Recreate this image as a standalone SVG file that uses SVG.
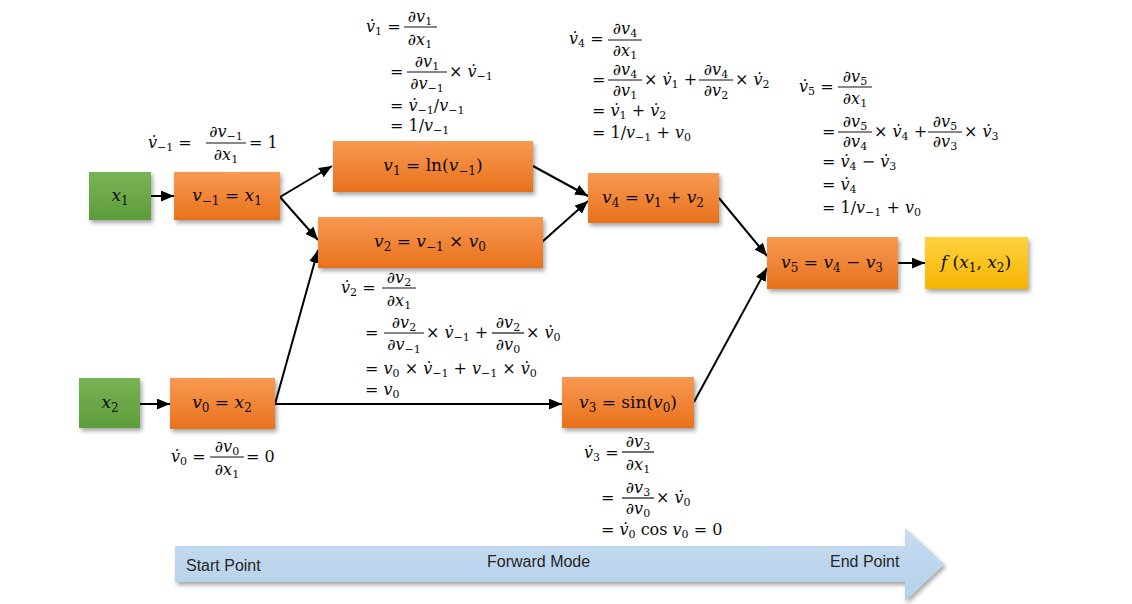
<svg xmlns="http://www.w3.org/2000/svg" width="1132" height="604" viewBox="0 0 1132 604">
<defs>
<style>
.m{font-family:"DejaVu Serif","Liberation Serif",serif;font-size:16px;fill:#0a0a0a}
.n{font-size:17px}
.i{font-style:italic}
.s{font-size:11px}
.n .s{font-size:12px}
.bar{stroke:#111;stroke-width:1.2}
.c{fill:none;stroke:#000;stroke-width:2;marker-end:url(#ah)}
.lab{font-family:"Liberation Sans",Arial,sans-serif;font-size:16px;fill:#262626}
.or{fill:url(#gO);filter:url(#sh)}
.gr{fill:url(#gG);filter:url(#sh)}
.ye{fill:url(#gY);filter:url(#sh)}
</style>
<linearGradient id="gO" x1="0" y1="0" x2="0" y2="1"><stop offset="0" stop-color="#F89A52"/><stop offset="1" stop-color="#E8711C"/></linearGradient>
<linearGradient id="gG" x1="0" y1="0" x2="0" y2="1"><stop offset="0" stop-color="#79B356"/><stop offset="1" stop-color="#5E9C3A"/></linearGradient>
<linearGradient id="gY" x1="0" y1="0" x2="0" y2="1"><stop offset="0" stop-color="#FFD23F"/><stop offset="1" stop-color="#F5B400"/></linearGradient>
<linearGradient id="gB" x1="0" y1="0" x2="0" y2="1"><stop offset="0" stop-color="#C6DCF0"/><stop offset="1" stop-color="#B4D0EA"/></linearGradient>
<filter id="sh" x="-10%" y="-20%" width="130%" height="150%"><feDropShadow dx="2" dy="3" stdDeviation="2" flood-color="#000" flood-opacity="0.35"/></filter>
<marker id="ah" viewBox="0 0 12 10" refX="12" refY="5" markerWidth="13" markerHeight="11" markerUnits="userSpaceOnUse" orient="auto"><path d="M0,0 L12,5 L0,10 z" fill="#000"/></marker>
</defs>
<rect width="1132" height="604" fill="#fff"/>

<g id="timeline">
<polygon points="175,546 905,546 905,528 944,564 905,601 905,582 175,582" fill="url(#gB)" filter="url(#sh)"/>
<text class="lab" x="186" y="571">Start Point</text>
<text class="lab" x="487" y="567">Forward Mode</text>
<text class="lab" x="830" y="567">End Point</text>
</g>

<g id="connectors">
<path class="c" d="M151,196 L174,196"/>
<path class="c" d="M140,404 L170,404"/>
<path class="c" d="M280,197 L332,166"/>
<path class="c" d="M280,197 L318,240"/>
<path class="c" d="M275,404 L318,250"/>
<path class="c" d="M275,404 L562,404"/>
<path class="c" d="M533,166 L588,196"/>
<path class="c" d="M542,242 L588,201"/>
<path class="c" d="M719,198 L767,256"/>
<path class="c" d="M694,402 L767,268"/>
<path class="c" d="M898,263 L925,263"/>
</g>

<g id="x1"><rect class="gr" x="89" y="172" width="62" height="48"/>
<text class="m n" x="120" y="201" text-anchor="middle"><tspan class="i">x</tspan><tspan class="s" dy="4">1</tspan></text></g>

<g id="vm1"><rect class="or" x="174" y="172" width="106" height="48"/>
<text class="m n" x="227" y="201" text-anchor="middle"><tspan class="i">v</tspan><tspan class="s" dy="4">−1</tspan><tspan dy="-4"> = </tspan><tspan class="i">x</tspan><tspan class="s" dy="4">1</tspan></text></g>

<g id="v1"><rect class="or" x="333" y="141" width="200" height="51"/>
<text class="m n" x="433" y="171" text-anchor="middle"><tspan class="i">v</tspan><tspan class="s" dy="4">1</tspan><tspan dy="-4"> = ln(</tspan><tspan class="i">v</tspan><tspan class="s" dy="4">−1</tspan><tspan dy="-4">)</tspan></text></g>

<g id="v2"><rect class="or" x="318" y="217" width="225" height="51"/>
<text class="m n" x="430" y="247" text-anchor="middle"><tspan class="i">v</tspan><tspan class="s" dy="4">2</tspan><tspan dy="-4"> = </tspan><tspan class="i">v</tspan><tspan class="s" dy="4">−1</tspan><tspan dy="-4"> × </tspan><tspan class="i">v</tspan><tspan class="s" dy="4">0</tspan></text></g>

<g id="v4"><rect class="or" x="588" y="173" width="131" height="50"/>
<text class="m n" x="653" y="203" text-anchor="middle"><tspan class="i">v</tspan><tspan class="s" dy="4">4</tspan><tspan dy="-4"> = </tspan><tspan class="i">v</tspan><tspan class="s" dy="4">1</tspan><tspan dy="-4"> + </tspan><tspan class="i">v</tspan><tspan class="s" dy="4">2</tspan></text></g>

<g id="v5"><rect class="or" x="767" y="237" width="131" height="52"/>
<text class="m n" x="832" y="268" text-anchor="middle"><tspan class="i">v</tspan><tspan class="s" dy="4">5</tspan><tspan dy="-4"> = </tspan><tspan class="i">v</tspan><tspan class="s" dy="4">4</tspan><tspan dy="-4"> − </tspan><tspan class="i">v</tspan><tspan class="s" dy="4">3</tspan></text></g>

<g id="f"><rect class="ye" x="925" y="237" width="103" height="52"/>
<text class="m n" x="976" y="268" text-anchor="middle"><tspan class="i">f</tspan><tspan> (</tspan><tspan class="i">x</tspan><tspan class="s" dy="4">1</tspan><tspan dy="-4">, </tspan><tspan class="i">x</tspan><tspan class="s" dy="4">2</tspan><tspan dy="-4">)</tspan></text></g>

<g id="x2"><rect class="gr" x="79" y="378" width="61" height="50"/>
<text class="m n" x="110" y="408" text-anchor="middle"><tspan class="i">x</tspan><tspan class="s" dy="4">2</tspan></text></g>

<g id="v0"><rect class="or" x="170" y="378" width="105" height="51"/>
<text class="m n" x="222" y="408" text-anchor="middle"><tspan class="i">v</tspan><tspan class="s" dy="4">0</tspan><tspan dy="-4"> = </tspan><tspan class="i">x</tspan><tspan class="s" dy="4">2</tspan></text></g>

<g id="v3"><rect class="or" x="562" y="377" width="132" height="51"/>
<text class="m n" x="628" y="408" text-anchor="middle"><tspan class="i">v</tspan><tspan class="s" dy="4">3</tspan><tspan dy="-4"> = sin(</tspan><tspan class="i">v</tspan><tspan class="s" dy="4">0</tspan><tspan dy="-4">)</tspan></text></g>

<g id="ann-vm1">
<text class="m" x="148" y="148"><tspan class="i">v&#x307;</tspan><tspan class="s" dy="3">−1</tspan><tspan dy="-3"> =</tspan></text>
<text class="m" x="226" y="137" text-anchor="middle"><tspan class="i">∂v</tspan><tspan class="s" dy="3">−1</tspan></text>
<line class="bar" x1="206" y1="143" x2="246" y2="143"/>
<text class="m" x="226" y="160" text-anchor="middle"><tspan class="i">∂x</tspan><tspan class="s" dy="3">1</tspan></text>
<text class="m" x="249" y="148">= 1</text>
</g>

<g id="ann-v1">
<text class="m" x="366" y="32"><tspan class="i">v&#x307;</tspan><tspan class="s" dy="3">1</tspan><tspan dy="-3"> =</tspan></text>
<text class="m" x="420" y="22" text-anchor="middle"><tspan class="i">∂v</tspan><tspan class="s" dy="3">1</tspan></text>
<line class="bar" x1="404" y1="27" x2="437" y2="27"/>
<text class="m" x="420" y="45" text-anchor="middle"><tspan class="i">∂x</tspan><tspan class="s" dy="3">1</tspan></text>
<text class="m" x="390" y="77">=</text>
<text class="m" x="427" y="67" text-anchor="middle"><tspan class="i">∂v</tspan><tspan class="s" dy="3">1</tspan></text>
<line class="bar" x1="407" y1="72" x2="447" y2="72"/>
<text class="m" x="427" y="89" text-anchor="middle"><tspan class="i">∂v</tspan><tspan class="s" dy="3">−1</tspan></text>
<text class="m" x="449" y="77">× <tspan class="i">v&#x307;</tspan><tspan class="s" dy="3">−1</tspan></text>
<text class="m" x="390" y="111">= <tspan class="i">v&#x307;</tspan><tspan class="s" dy="3">−1</tspan><tspan dy="-3">/</tspan><tspan class="i">v</tspan><tspan class="s" dy="3">−1</tspan></text>
<text class="m" x="390" y="131">= 1/<tspan class="i">v</tspan><tspan class="s" dy="3">−1</tspan></text>
</g>

<g id="ann-v4">
<text class="m" x="569" y="44"><tspan class="i">v&#x307;</tspan><tspan class="s" dy="3">4</tspan><tspan dy="-3"> =</tspan></text>
<text class="m" x="625" y="34" text-anchor="middle"><tspan class="i">∂v</tspan><tspan class="s" dy="3">4</tspan></text>
<line class="bar" x1="608" y1="40" x2="642" y2="40"/>
<text class="m" x="625" y="56" text-anchor="middle"><tspan class="i">∂x</tspan><tspan class="s" dy="3">1</tspan></text>
<text class="m" x="592" y="85">=</text>
<text class="m" x="625" y="75" text-anchor="middle"><tspan class="i">∂v</tspan><tspan class="s" dy="3">4</tspan></text>
<line class="bar" x1="608" y1="80" x2="642" y2="80"/>
<text class="m" x="625" y="96" text-anchor="middle"><tspan class="i">∂v</tspan><tspan class="s" dy="3">1</tspan></text>
<text class="m" x="644" y="85">× <tspan class="i">v&#x307;</tspan><tspan class="s" dy="3">1</tspan><tspan dy="-3"> +</tspan></text>
<text class="m" x="716" y="75" text-anchor="middle"><tspan class="i">∂v</tspan><tspan class="s" dy="3">4</tspan></text>
<line class="bar" x1="699" y1="80" x2="733" y2="80"/>
<text class="m" x="716" y="96" text-anchor="middle"><tspan class="i">∂v</tspan><tspan class="s" dy="3">2</tspan></text>
<text class="m" x="735" y="85">× <tspan class="i">v&#x307;</tspan><tspan class="s" dy="3">2</tspan></text>
<text class="m" x="592" y="116">= <tspan class="i">v&#x307;</tspan><tspan class="s" dy="3">1</tspan><tspan dy="-3"> + </tspan><tspan class="i">v&#x307;</tspan><tspan class="s" dy="3">2</tspan></text>
<text class="m" x="592" y="138">= 1/<tspan class="i">v</tspan><tspan class="s" dy="3">−1</tspan><tspan dy="-3"> + </tspan><tspan class="i">v</tspan><tspan class="s" dy="3">0</tspan></text>
</g>

<g id="ann-v5">
<text class="m" x="799" y="92"><tspan class="i">v&#x307;</tspan><tspan class="s" dy="3">5</tspan><tspan dy="-3"> =</tspan></text>
<text class="m" x="855" y="82" text-anchor="middle"><tspan class="i">∂v</tspan><tspan class="s" dy="3">5</tspan></text>
<line class="bar" x1="838" y1="87" x2="872" y2="87"/>
<text class="m" x="855" y="104" text-anchor="middle"><tspan class="i">∂x</tspan><tspan class="s" dy="3">1</tspan></text>
<text class="m" x="822" y="137">=</text>
<text class="m" x="855" y="127" text-anchor="middle"><tspan class="i">∂v</tspan><tspan class="s" dy="3">5</tspan></text>
<line class="bar" x1="838" y1="132" x2="872" y2="132"/>
<text class="m" x="855" y="147" text-anchor="middle"><tspan class="i">∂v</tspan><tspan class="s" dy="3">4</tspan></text>
<text class="m" x="874" y="137">× <tspan class="i">v&#x307;</tspan><tspan class="s" dy="3">4</tspan><tspan dy="-3"> +</tspan></text>
<text class="m" x="945" y="127" text-anchor="middle"><tspan class="i">∂v</tspan><tspan class="s" dy="3">5</tspan></text>
<line class="bar" x1="928" y1="132" x2="962" y2="132"/>
<text class="m" x="945" y="147" text-anchor="middle"><tspan class="i">∂v</tspan><tspan class="s" dy="3">3</tspan></text>
<text class="m" x="964" y="137">× <tspan class="i">v&#x307;</tspan><tspan class="s" dy="3">3</tspan></text>
<text class="m" x="822" y="167">= <tspan class="i">v&#x307;</tspan><tspan class="s" dy="3">4</tspan><tspan dy="-3"> − </tspan><tspan class="i">v&#x307;</tspan><tspan class="s" dy="3">3</tspan></text>
<text class="m" x="822" y="190">= <tspan class="i">v&#x307;</tspan><tspan class="s" dy="3">4</tspan></text>
<text class="m" x="822" y="213">= 1/<tspan class="i">v</tspan><tspan class="s" dy="3">−1</tspan><tspan dy="-3"> + </tspan><tspan class="i">v</tspan><tspan class="s" dy="3">0</tspan></text>
</g>

<g id="ann-v2">
<text class="m" x="341" y="293"><tspan class="i">v&#x307;</tspan><tspan class="s" dy="3">2</tspan><tspan dy="-3"> =</tspan></text>
<text class="m" x="399" y="283" text-anchor="middle"><tspan class="i">∂v</tspan><tspan class="s" dy="3">2</tspan></text>
<line class="bar" x1="382" y1="288" x2="416" y2="288"/>
<text class="m" x="399" y="306" text-anchor="middle"><tspan class="i">∂x</tspan><tspan class="s" dy="3">1</tspan></text>
<text class="m" x="365" y="338">=</text>
<text class="m" x="404" y="328" text-anchor="middle"><tspan class="i">∂v</tspan><tspan class="s" dy="3">2</tspan></text>
<line class="bar" x1="384" y1="333" x2="424" y2="333"/>
<text class="m" x="404" y="350" text-anchor="middle"><tspan class="i">∂v</tspan><tspan class="s" dy="3">−1</tspan></text>
<text class="m" x="426" y="338">× <tspan class="i">v&#x307;</tspan><tspan class="s" dy="3">−1</tspan><tspan dy="-3"> +</tspan></text>
<text class="m" x="508" y="328" text-anchor="middle"><tspan class="i">∂v</tspan><tspan class="s" dy="3">2</tspan></text>
<line class="bar" x1="492" y1="333" x2="524" y2="333"/>
<text class="m" x="508" y="350" text-anchor="middle"><tspan class="i">∂v</tspan><tspan class="s" dy="3">0</tspan></text>
<text class="m" x="526" y="338">× <tspan class="i">v&#x307;</tspan><tspan class="s" dy="3">0</tspan></text>
<text class="m" x="365" y="374">= <tspan class="i">v</tspan><tspan class="s" dy="3">0</tspan><tspan dy="-3"> × </tspan><tspan class="i">v&#x307;</tspan><tspan class="s" dy="3">−1</tspan><tspan dy="-3"> + </tspan><tspan class="i">v</tspan><tspan class="s" dy="3">−1</tspan><tspan dy="-3"> × </tspan><tspan class="i">v&#x307;</tspan><tspan class="s" dy="3">0</tspan></text>
<text class="m" x="365" y="395">= <tspan class="i">v</tspan><tspan class="s" dy="3">0</tspan></text>
</g>

<g id="ann-v3">
<text class="m" x="584" y="458"><tspan class="i">v&#x307;</tspan><tspan class="s" dy="3">3</tspan><tspan dy="-3"> =</tspan></text>
<text class="m" x="638" y="447" text-anchor="middle"><tspan class="i">∂v</tspan><tspan class="s" dy="3">3</tspan></text>
<line class="bar" x1="622" y1="452" x2="654" y2="452"/>
<text class="m" x="638" y="470" text-anchor="middle"><tspan class="i">∂x</tspan><tspan class="s" dy="3">1</tspan></text>
<text class="m" x="601" y="503">=</text>
<text class="m" x="638" y="493" text-anchor="middle"><tspan class="i">∂v</tspan><tspan class="s" dy="3">3</tspan></text>
<line class="bar" x1="622" y1="498" x2="654" y2="498"/>
<text class="m" x="638" y="514" text-anchor="middle"><tspan class="i">∂v</tspan><tspan class="s" dy="3">0</tspan></text>
<text class="m" x="656" y="503">× <tspan class="i">v&#x307;</tspan><tspan class="s" dy="3">0</tspan></text>
<text class="m" x="601" y="535">= <tspan class="i">v&#x307;</tspan><tspan class="s" dy="3">0</tspan><tspan dy="-3"> cos </tspan><tspan class="i">v</tspan><tspan class="s" dy="3">0</tspan><tspan dy="-3"> = 0</tspan></text>
</g>

<g id="ann-v0">
<text class="m" x="171" y="462"><tspan class="i">v&#x307;</tspan><tspan class="s" dy="3">0</tspan><tspan dy="-3"> =</tspan></text>
<text class="m" x="227" y="452" text-anchor="middle"><tspan class="i">∂v</tspan><tspan class="s" dy="3">0</tspan></text>
<line class="bar" x1="210" y1="457" x2="244" y2="457"/>
<text class="m" x="227" y="475" text-anchor="middle"><tspan class="i">∂x</tspan><tspan class="s" dy="3">1</tspan></text>
<text class="m" x="246" y="462">= 0</text>
</g>
</svg>
